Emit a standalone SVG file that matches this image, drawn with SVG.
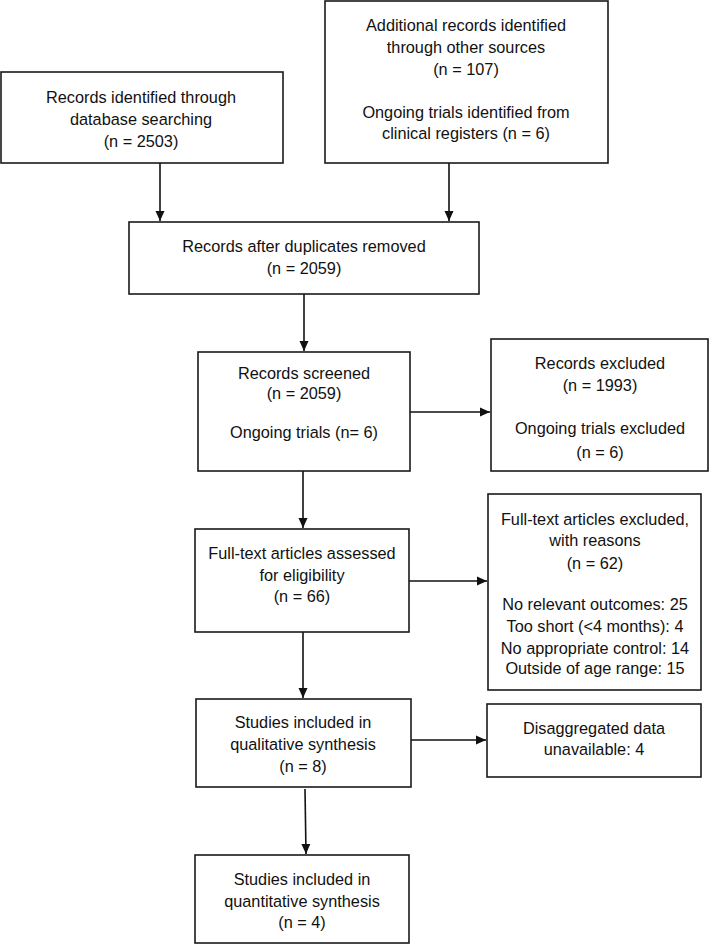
<svg xmlns="http://www.w3.org/2000/svg" width="710" height="944" viewBox="0 0 710 944">
<defs>
<style>
.box{fill:#fff;stroke:#1a1a1a;stroke-width:1.6}
.t{font-family:"Liberation Sans",Arial,sans-serif;font-size:16.3px;fill:#111;text-anchor:middle}
.c{stroke:#111;stroke-width:1.6;fill:none;marker-end:url(#ah)}
</style>
<marker id="ah" markerWidth="12" markerHeight="12" refX="10" refY="5.5" orient="auto" markerUnits="userSpaceOnUse">
<path d="M0,1 L10,5.5 L0,10 Z" fill="#111"/>
</marker>
</defs>
<rect width="710" height="944" fill="#fff"/>
<g id="connectors">
<line class="c" x1="160" y1="163" x2="160" y2="221"/>
<line class="c" x1="449" y1="163" x2="449" y2="221"/>
<line class="c" x1="304" y1="294" x2="304" y2="351"/>
<line class="c" x1="410" y1="412" x2="490" y2="412"/>
<line class="c" x1="303" y1="471" x2="303" y2="528"/>
<line class="c" x1="409" y1="581" x2="487" y2="581"/>
<line class="c" x1="303" y1="632" x2="303" y2="698"/>
<line class="c" x1="411" y1="740" x2="486" y2="740"/>
<line class="c" x1="305" y1="789" x2="306" y2="854"/>
</g>
<g id="n1">
<rect class="box" x="1" y="72" width="282" height="91"/>
<text class="t" x="141" y="103">Records identified through</text>
<text class="t" x="141" y="125">database searching</text>
<text class="t" x="141" y="147">(n = 2503)</text>
</g>
<g id="n2">
<rect class="box" x="325" y="1" width="283" height="162"/>
<text class="t" x="466" y="31">Additional records identified</text>
<text class="t" x="466" y="53">through other sources</text>
<text class="t" x="466" y="75">(n = 107)</text>
<text class="t" x="466" y="118">Ongoing trials identified from</text>
<text class="t" x="466" y="139">clinical registers (n = 6)</text>
</g>
<g id="n3">
<rect class="box" x="129" y="222" width="350" height="72"/>
<text class="t" x="304" y="252">Records after duplicates removed</text>
<text class="t" x="304" y="274">(n = 2059)</text>
</g>
<g id="n4">
<rect class="box" x="198" y="352" width="212" height="119"/>
<text class="t" x="304" y="379">Records screened</text>
<text class="t" x="304" y="399">(n = 2059)</text>
<text class="t" x="304" y="438">Ongoing trials (n= 6)</text>
</g>
<g id="n5">
<rect class="box" x="491" y="339" width="217" height="132"/>
<text class="t" x="600" y="369">Records excluded</text>
<text class="t" x="600" y="391">(n = 1993)</text>
<text class="t" x="600" y="434">Ongoing trials excluded</text>
<text class="t" x="600" y="458">(n = 6)</text>
</g>
<g id="n6">
<rect class="box" x="195" y="529" width="214" height="103"/>
<text class="t" x="302" y="559">Full-text articles assessed</text>
<text class="t" x="302" y="581">for eligibility</text>
<text class="t" x="302" y="602">(n = 66)</text>
</g>
<g id="n7">
<rect class="box" x="488" y="494" width="213" height="196"/>
<text class="t" x="595" y="525">Full-text articles excluded,</text>
<text class="t" x="595" y="546">with reasons</text>
<text class="t" x="595" y="569">(n = 62)</text>
<text class="t" x="595" y="610">No relevant outcomes: 25</text>
<text class="t" x="595" y="632">Too short (&lt;4 months): 4</text>
<text class="t" x="595" y="654">No appropriate control: 14</text>
<text class="t" x="595" y="674">Outside of age range: 15</text>
</g>
<g id="n8">
<rect class="box" x="196" y="699" width="215" height="88"/>
<text class="t" x="303" y="728">Studies included in</text>
<text class="t" x="303" y="750">qualitative synthesis</text>
<text class="t" x="303" y="772">(n = 8)</text>
</g>
<g id="n9">
<rect class="box" x="487" y="704" width="214" height="73"/>
<text class="t" x="594" y="734">Disaggregated data</text>
<text class="t" x="594" y="755">unavailable: 4</text>
</g>
<g id="n10">
<rect class="box" x="195" y="855" width="214" height="88"/>
<text class="t" x="302" y="885">Studies included in</text>
<text class="t" x="302" y="907">quantitative synthesis</text>
<text class="t" x="302" y="928">(n = 4)</text>
</g>
</svg>
